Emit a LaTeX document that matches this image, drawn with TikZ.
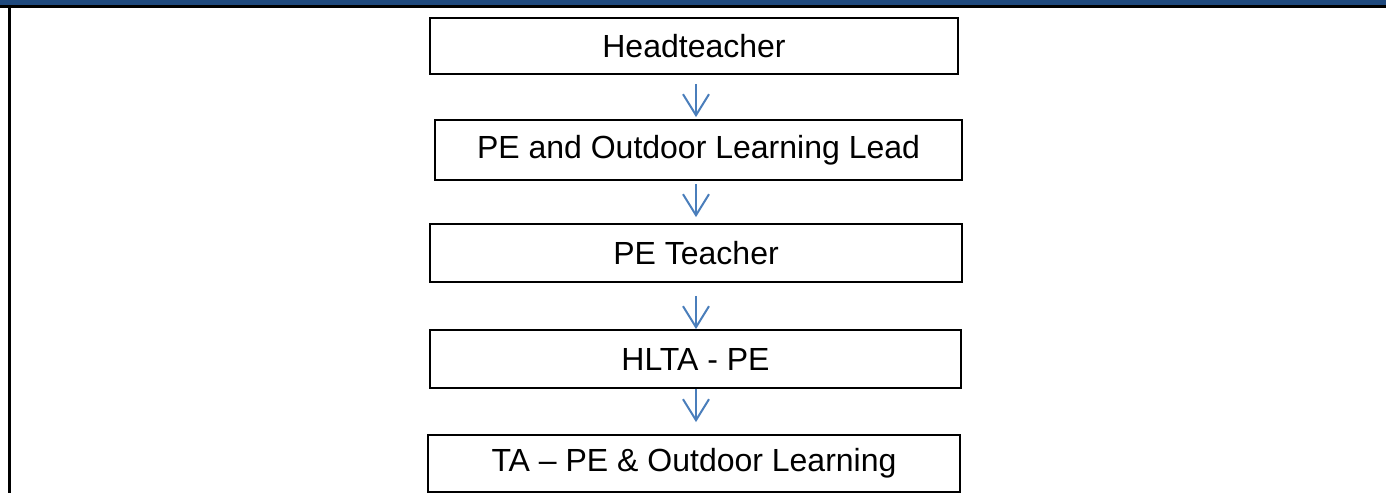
\documentclass[tikz,border=0pt]{standalone}
\usepackage{fontspec}
\setmainfont{Liberation Sans}
\usetikzlibrary{arrows.meta}
\definecolor{bandblue}{HTML}{1F497D}
\definecolor{arrblue}{HTML}{4A7EBB}
\begin{document}
\begin{tikzpicture}[x=0.5pt,y=-0.5pt,
  rolebox/.style={draw=black,line width=0.9pt,inner sep=0pt,
    font=\fontsize{16pt}{18pt}\selectfont},
  arr/.style={draw=arrblue,line width=1pt,
    -{Straight Barb[length=10.5pt,width=13pt,line width=1pt]}}]
\useasboundingbox (0,0) rectangle (1386,493);
\fill[bandblue] (0,0) rectangle (1386,5.5);
\draw[line width=1.5pt] (0,6.5) -- (1386,6.5);
\draw[line width=1.5pt] (9,6.5) -- (9,493);
\node[rolebox,minimum width=264pt,minimum height=28pt] (b1) at (694,46) {Headteacher};
\node[rolebox,minimum width=263.5pt,minimum height=30pt] (b2) at (698.5,150) {PE and Outdoor Learning Lead};
\node[rolebox,minimum width=266pt,minimum height=29pt] (b3) at (696,253) {PE Teacher};
\node[rolebox,minimum width=265.5pt,minimum height=29pt] (b4) at (695.5,359) {HLTA - PE};
\node[rolebox,minimum width=266pt,minimum height=28.5pt] (b5) at (694,463.5) {TA – PE \& Outdoor Learning};
\coordinate (ax) at ([xshift=1pt]b1.south);
\draw[arr] ([yshift=-4.5pt]ax |- b1.south) -- ([yshift=1pt]ax |- b2.north);
\draw[arr] ([yshift=-1.5pt]ax |- b2.south) -- ([yshift=3pt]ax |- b3.north);
\draw[arr] ([yshift=-6.5pt]ax |- b3.south) -- (ax |- b4.north);
\draw[arr] (ax |- b4.south) -- ([yshift=6pt]ax |- b5.north);
\end{tikzpicture}
\end{document}
